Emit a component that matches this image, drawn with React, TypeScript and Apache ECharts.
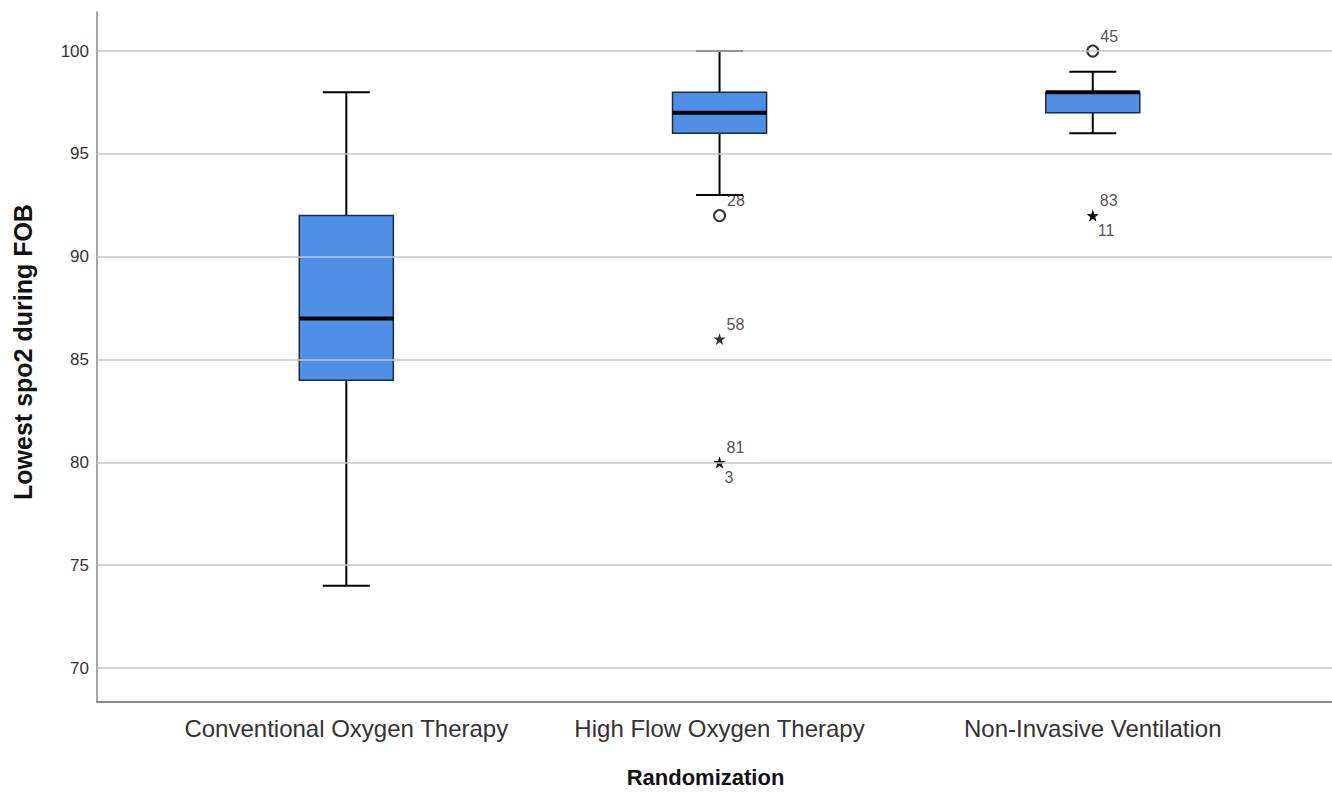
import React, { useEffect, useRef } from 'react';
import * as echarts from 'echarts';

const categories = ['Conventional Oxygen Therapy', 'High Flow Oxygen Therapy', 'Non-Invasive Ventilation'];
// [lower whisker, Q1, median, Q3, upper whisker]
const lowerWhisker = [74, 93, 96];
const q1Values = [84, 96, 97];
const medians = [87, 97, 98];
const q3Values = [92, 98, 98];
const upperWhisker = [98, 100, 99];
const yTicks = [70, 75, 80, 85, 90, 95, 100];
// outliers: category index, value, case id
const circleCats = [1, 2];
const circleValues = [92, 100];
const circleIds = ['28', '45'];
const starCats = [1, 1, 1, 2, 2];
const starValues = [86, 80, 80, 92, 92];
const starIds = ['58', '81', '3', '83', '11'];

const FONT = 'Liberation Sans, Arial, sans-serif';
const STAR = 'path://M50,0 L61,35 L98,35 L68,57 L79,91 L50,70 L21,91 L32,57 L2,35 L39,35 Z';

function outlierData(cats: number[], values: number[], ids: string[]) {
  const seen: Record<string, number> = {};
  return cats.map((c, i) => {
    const key = c + '_' + values[i];
    seen[key] = (seen[key] || 0) + 1;
    const below = seen[key] > 1;
    return {
      value: [c + 1, values[i]],
      label: {
        show: true,
        formatter: ids[i],
        position: 'right',
        offset: below ? [-6, 15] : [-4, -15],
      },
    };
  });
}

export default function App() {
  const ref = useRef<HTMLDivElement>(null);
  useEffect(() => {
    const chart = echarts.init(ref.current!, null, { renderer: 'svg' });
    const boxData = categories.map((_, i) => [i + 1, lowerWhisker[i], q1Values[i], medians[i], q3Values[i], upperWhisker[i]]);
    chart.setOption({
      animation: false,
      backgroundColor: '#ffffff',
      grid: { left: 97, right: 0, top: 12, bottom: 89 },
      xAxis: {
        type: 'value',
        min: 0.332,
        max: 3.641,
        name: 'Randomization',
        nameLocation: 'middle',
        nameGap: 64,
        nameTextStyle: { fontFamily: FONT, fontSize: 22, fontWeight: 'bold', color: '#111', padding: [0, 18, 0, 0] },
        axisLine: { show: true, lineStyle: { color: '#666', width: 1.5 } },
        axisTick: { show: false },
        splitLine: { show: false },
        axisLabel: {
          customValues: [1, 2, 3],
          formatter: (v: number) => categories[Math.round(v) - 1] ?? '',
          fontFamily: FONT,
          fontSize: 24,
          color: '#333',
          margin: 14,
        },
      },
      yAxis: {
        type: 'value',
        min: 68.35,
        max: 101.9,
        name: 'Lowest spo2 during FOB',
        nameLocation: 'middle',
        nameRotate: 90,
        nameGap: 62,
        nameTextStyle: { fontFamily: FONT, fontSize: 25, fontWeight: 'bold', color: '#111', padding: [0, 0, 0, 10] },
        axisLine: { show: true, lineStyle: { color: '#888', width: 1.5 } },
        axisTick: { show: false, customValues: yTicks },
        splitLine: { show: false },
        axisLabel: {
          customValues: yTicks,
          fontFamily: FONT,
          fontSize: 17,
          color: '#333',
          margin: 8,
        },
      },
      series: [
        {
          type: 'scatter',
          data: [],
          silent: true,
          z: 1,
          markLine: {
            silent: true,
            symbol: ['none', 'none'],
            label: { show: false },
            lineStyle: { color: '#c6c6c6', width: 1.5, type: 'solid' },
            data: yTicks.map((t) => ({ yAxis: t })),
          },
        },
        {
          type: 'custom',
          z: 2,
          data: boxData,
          encode: { x: 0, y: [1, 2, 3, 4, 5] },
          renderItem: (params: any, api: any) => {
            const x = api.value(0);
            const bw = api.size([1, 0])[0] * 0.252;
            const cx = api.coord([x, api.value(1)])[0];
            const yLo = api.coord([x, api.value(1)])[1];
            const yQ1 = api.coord([x, api.value(2)])[1];
            const yMed = api.coord([x, api.value(3)])[1];
            const yQ3 = api.coord([x, api.value(4)])[1];
            const yHi = api.coord([x, api.value(5)])[1];
            const wStyle = { stroke: '#000', lineWidth: 2 };
            return {
              type: 'group',
              children: [
                { type: 'line', shape: { x1: cx, y1: yQ1, x2: cx, y2: yLo }, style: wStyle },
                { type: 'line', shape: { x1: cx - bw / 4, y1: yLo, x2: cx + bw / 4, y2: yLo }, style: wStyle },
                { type: 'line', shape: { x1: cx, y1: yQ3, x2: cx, y2: yHi }, style: wStyle },
                { type: 'line', shape: { x1: cx - bw / 4, y1: yHi, x2: cx + bw / 4, y2: yHi }, style: wStyle },
                {
                  type: 'rect',
                  shape: { x: cx - bw / 2, y: yQ3, width: bw, height: yQ1 - yQ3 },
                  style: { fill: '#4f8fe6', stroke: '#1c2b45', lineWidth: 1.5 },
                },
                { type: 'line', shape: { x1: cx - bw / 2, y1: yMed, x2: cx + bw / 2, y2: yMed }, style: { stroke: '#000', lineWidth: 4 } },
              ],
            };
          },
        },
        {
          type: 'scatter',
          z: 3,
          symbol: 'emptyCircle',
          symbolSize: 11,
          itemStyle: { color: '#000', borderColor: '#000', borderWidth: 1.5 },
          label: { fontFamily: FONT, fontSize: 16, color: '#222' },
          data: outlierData(circleCats, circleValues, circleIds),
        },
        {
          type: 'scatter',
          z: 3,
          symbol: STAR,
          symbolSize: 12,
          itemStyle: { color: '#000' },
          label: { fontFamily: FONT, fontSize: 16, color: '#222' },
          data: outlierData(starCats, starValues, starIds),
        },
      ],
    });
    return () => chart.dispose();
  }, []);
  return <div ref={ref} style={{ position: 'fixed', left: 0, top: 0, width: 1332, height: 793, background: '#fff' }} />;
}
